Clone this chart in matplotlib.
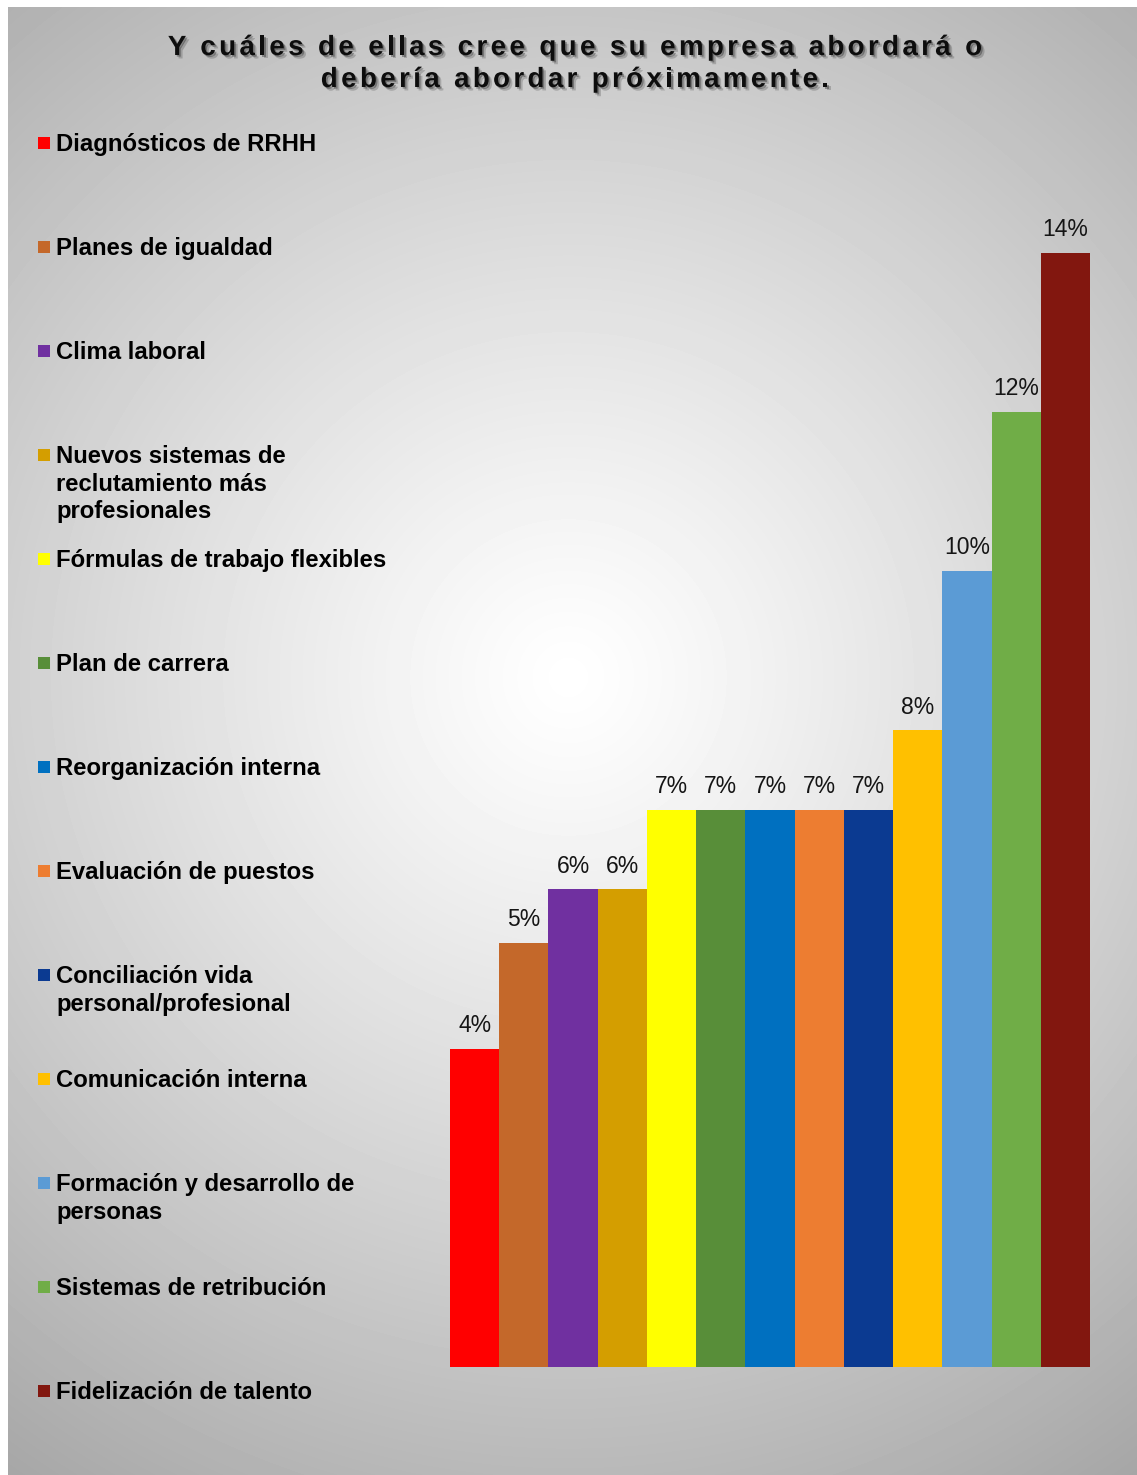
import numpy as np
import matplotlib
matplotlib.use('Agg')
import matplotlib.pyplot as plt
import matplotlib.patheffects as pe
from matplotlib.patches import Rectangle
from matplotlib.font_manager import FontProperties

# Survey answers, share of respondents (%)
categories = [
    'Diagnósticos de RRHH',
    'Planes de igualdad',
    'Clima laboral',
    'Nuevos sistemas de\nreclutamiento más\nprofesionales',
    'Fórmulas de trabajo flexibles',
    'Plan de carrera',
    'Reorganización interna',
    'Evaluación de puestos',
    'Conciliación vida\npersonal/profesional',
    'Comunicación interna',
    'Formación y desarrollo de\npersonas',
    'Sistemas de retribución',
    'Fidelización de talento',
]
values = [4, 5.33, 6, 6, 7, 7, 7, 7, 7, 8, 10, 12, 14]
colors = ['#FF0000', '#C4682A', '#7030A0', '#D49E00', '#FFFF00', '#588E39',
          '#0070C0', '#ED7D31', '#0B3A91', '#FFC000', '#5B9BD5', '#70AD47',
          '#82170F']
title_lines = ['Y cuáles de ellas cree que su empresa abordará o',
               'debería abordar próximamente.']

W, H = 1137, 1475
DPI = 100
plt.rcParams['font.family'] = ['Liberation Sans', 'DejaVu Sans']

fig = plt.figure(figsize=(W / DPI, H / DPI), dpi=DPI, facecolor='white')


def fx(x):
    return x / W


def fy(y):
    return 1 - y / H


# radial grey background, white in the middle
bg = fig.add_axes([fx(8), 0, 1 - fx(8), 1 - 7 / H])
ny, nx = H - 7, W - 8
yy, xx = np.mgrid[0:ny, 0:nx]
r = np.sqrt(((xx - 560) / (0.65 * nx)) ** 2 + ((yy - 670) / (ny / 2)) ** 2)
shade = np.clip(255 - 64 * r ** 1.15, 0, 255)
bg.imshow(shade, cmap='gray', vmin=0, vmax=255, aspect='auto',
          extent=(0, 1, 0, 1), interpolation='bilinear')
bg.axis('off')

# bars
ax = fig.add_axes([fx(450), 108 / H, 640 / W, 1194 / H])
ax.patch.set_alpha(0)
x = np.arange(len(values))
ax.bar(x, values, width=1.0, color=colors, zorder=2)
ax.set_xlim(-0.5, len(values) - 0.5)
ax.set_ylim(0, 15)
ax.axis('off')
for xi, v in zip(x, values):
    ax.annotate(f'{v:.0f}%', (xi, v), xytext=(0, 12), textcoords='offset points',
                ha='center', va='baseline', fontsize=16.5, color='#151515')

# legend down the left side; baseline alignment follows the last line,
# so multi-line entries are pushed down by their extra lines
line_step = 27.5
for i, (label, c) in enumerate(zip(categories, colors)):
    yc = 143 + 104 * i
    extra = label.count('\n') * line_step
    fig.add_artist(Rectangle((fx(38), fy(yc + 6)), 12 / W, 12 / H,
                             transform=fig.transFigure, facecolor=c,
                             edgecolor='none'))
    fig.text(fx(56), fy(yc + 8 + extra), label, fontsize=17.2, fontweight='bold',
             ha='left', va='baseline', linespacing=1.24, color='black')

# title with letter spacing and a soft drop shadow
title_prop = FontProperties(family='Liberation Sans', weight='bold', size=20)
renderer = fig.canvas.get_renderer()


def text_width(s):
    return renderer.get_text_width_height_descent(s, title_prop, ismath=False)[0]


spacing = 3.35
shadow = [pe.SimplePatchShadow(offset=(2.5, -2.5), shadow_rgbFace='black', alpha=0.18),
          pe.SimplePatchShadow(offset=(1.2, -1.2), shadow_rgbFace='black', alpha=0.3),
          pe.Normal()]
for line, baseline in zip(title_lines, [55, 87]):
    total = text_width(line) + spacing * (len(line) - 1)
    x0 = 575 - total / 2
    ref = text_width('I')
    for i, ch in enumerate(line):
        if ch == ' ':
            continue
        pos = text_width(line[:i] + 'I') - ref if i else 0
        fig.text(fx(x0 + pos + spacing * i), fy(baseline), ch,
                 fontproperties=title_prop, ha='left', va='baseline',
                 color='#0d0d0d', path_effects=shadow)

fig.savefig('out.png', dpi=DPI, facecolor='white')
